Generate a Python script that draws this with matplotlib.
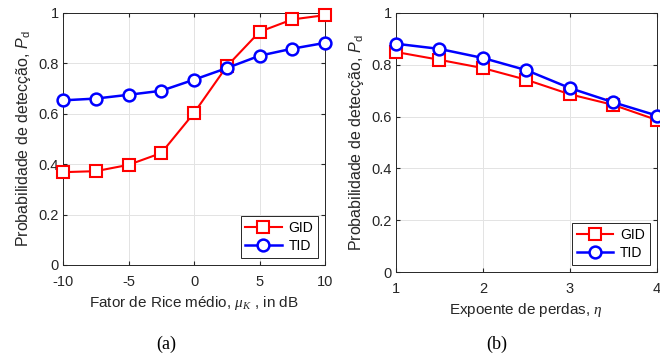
import matplotlib
matplotlib.use("Agg")
import matplotlib.pyplot as plt

plt.rcParams['font.family'] = ['Liberation Sans', 'DejaVu Sans']
plt.rcParams['mathtext.fontset'] = 'custom'
plt.rcParams['mathtext.it'] = 'Liberation Serif:italic'
plt.rcParams['mathtext.rm'] = 'Liberation Sans'
plt.rcParams['mathtext.sf'] = 'Liberation Sans:italic'
plt.rcParams['axes.unicode_minus'] = False

# (a) Rice factor
rice_db = [-10, -7.5, -5, -2.5, 0, 2.5, 5, 7.5, 10]
gid_a = [0.368, 0.372, 0.397, 0.444, 0.603, 0.788, 0.925, 0.974, 0.991]
tid_a = [0.653, 0.660, 0.675, 0.691, 0.735, 0.781, 0.830, 0.858, 0.881]

# (b) path loss exponent
eta = [1, 1.5, 2, 2.5, 3, 3.5, 4]
gid_b = [0.849, 0.819, 0.787, 0.742, 0.686, 0.645, 0.587]
tid_b = [0.881, 0.861, 0.826, 0.779, 0.710, 0.655, 0.604]

fig = plt.figure(figsize=(6.6, 3.58), dpi=100)
ax1 = fig.add_axes([0.0955, 0.260, 0.397, 0.704])
ax2 = fig.add_axes([0.600, 0.240, 0.395, 0.724])

def style(ax, x, g, t, xlabel, xticks):
    ax.plot(x, g, color='red', marker='s', markersize=8, markerfacecolor='white',
            markeredgewidth=1.5, linewidth=1.5, label='GID', clip_on=False, zorder=3)
    ax.plot(x, t, color='blue', marker='o', markersize=8.5, markerfacecolor='white',
            markeredgewidth=1.8, linewidth=1.8, label='TID', clip_on=False, zorder=3)
    ax.set_xlim(x[0], x[-1])
    ax.set_ylim(0, 1)
    ax.set_xticks(xticks)
    ax.set_yticks([0, 0.2, 0.4, 0.6, 0.8, 1])
    ax.set_yticklabels(['0', '0.2', '0.4', '0.6', '0.8', '1'])
    ax.grid(True, color='#e3e3e3', linewidth=0.7)
    ax.set_axisbelow(True)
    for s in ax.spines.values():
        s.set_color('#262626')
        s.set_linewidth(0.7)
    ax.tick_params(direction='in', length=3, labelsize=10.5, colors='#262626',
                   top=True, right=True)
    ax.tick_params(axis='x', pad=7)
    ax.tick_params(axis='y', pad=3)
    ax.set_xlabel(xlabel, fontsize=11, color='#262626', labelpad=4)
    ax.set_ylabel(r'Probabilidade de detecção, $\mathsf{P}_{\mathrm{d}}$', fontsize=11.5,
                  color='#262626', labelpad=4)
    leg = ax.legend(loc='lower right', fontsize=10, fancybox=False, framealpha=1,
                    edgecolor='#262626', handlelength=2.6, borderaxespad=0.5,
                    borderpad=0.35, labelspacing=0.3, handletextpad=0.5)
    leg.get_frame().set_linewidth(0.7)

style(ax1, rice_db, gid_a, tid_a, r'Fator de Rice médio, $\mu_K$ , in dB', [-10, -5, 0, 5, 10])
style(ax2, eta, gid_b, tid_b, r'Expoente de perdas, $\eta$', [1, 2, 3, 4])

fig.text(0.252, 0.039, '(a)', fontsize=13, family='Liberation Serif', ha='center', va='center')
fig.text(0.753, 0.039, '(b)', fontsize=13, family='Liberation Serif', ha='center', va='center')

fig.savefig('out.png', dpi=100)
